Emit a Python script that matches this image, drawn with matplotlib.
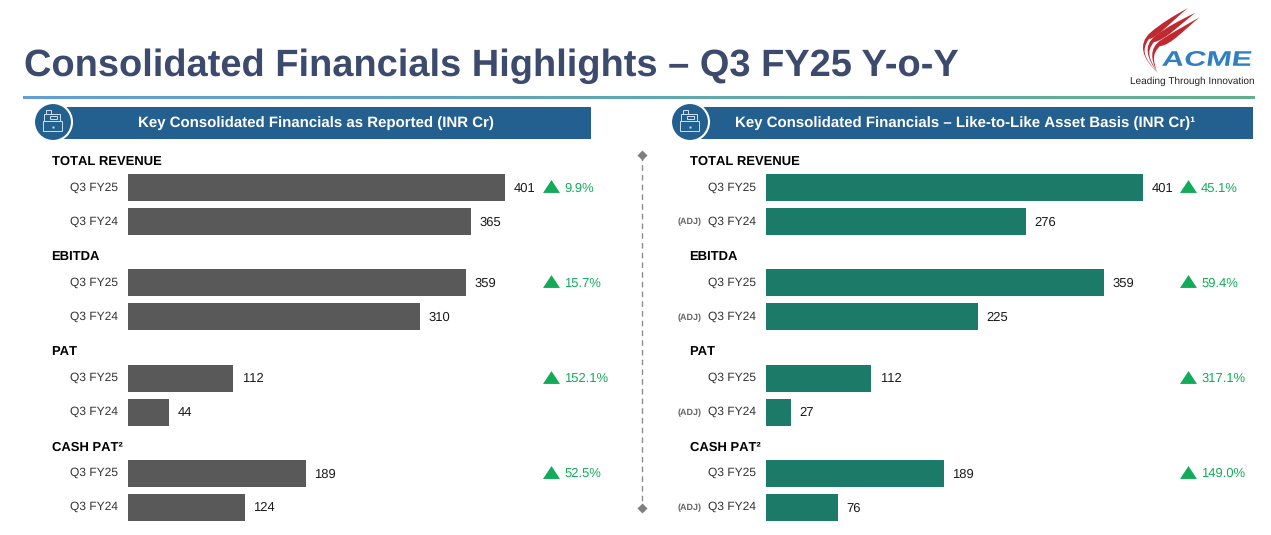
import numpy as np
import matplotlib
matplotlib.use('Agg')
import matplotlib.pyplot as plt
from matplotlib.colors import LinearSegmentedColormap
from matplotlib.font_manager import FontProperties
from matplotlib.patches import Circle, Rectangle, PathPatch
from matplotlib.path import Path
from matplotlib.textpath import TextPath
from matplotlib.transforms import Affine2D

plt.rcParams['font.family'] = ['Liberation Sans', 'DejaVu Sans']
plt.rcParams['text.hinting'] = 'no_hinting'
plt.rcParams['text.hinting_factor'] = 1

# datos
groups = ['TOTAL REVENUE', 'EBITDA', 'PAT', 'CASH PAT²']
periods = ['Q3 FY25', 'Q3 FY24']
reported_fy25 = [401, 359, 112, 189]
reported_fy24 = [365, 310, 44, 124]
reported_growth = ['9.9%', '15.7%', '152.1%', '52.5%']
adjusted_fy25 = [401, 359, 112, 189]
adjusted_fy24 = [276, 225, 27, 76]
adjusted_growth = ['45.1%', '59.4%', '317.1%', '149.0%']

W, H = 1271, 535
GREY = '#595959'
TEAL = '#1b7a68'
BLUE = '#24608f'
GREEN = '#12ab5a'
ICON = '#cfe0ee'
TRIANGLE = [(-1, -0.76), (1, -0.76), (0, 0.76)]

fig = plt.figure(figsize=(W / 100, H / 100), dpi=100)
bg = fig.add_axes([0, 0, 1, 1])

# titulo y linea degradada
bg.text(24, 66, 'Consolidated Financials Highlights – Q3 FY25 Y-o-Y', fontsize=27,
        fontweight='bold', color='#3c4a6e', va='center', ha='left')
grad = np.linspace(0, 1, 256).reshape(1, -1)
cmap = LinearSegmentedColormap.from_list('g', ['#5f9fd6', '#5fb08c'])
bg.imshow(grad, extent=[23, 1255, 99.5, 96.5], cmap=cmap, aspect='auto', zorder=1)
bg.set_xlim(0, W)
bg.set_ylim(H, 0)
bg.axis('off')

# logo
swooshes = [[(1157, 72), (1142, 58), (1138, 44), (1150, 33), (1160, 24), (1175, 15), (1188, 8)],
            [(1157, 72), (1147, 58), (1143, 46), (1155, 36), (1167, 27), (1182, 19), (1195, 13)],
            [(1157, 72), (1151, 60), (1149, 48), (1161, 40), (1173, 32), (1188, 24), (1200, 17)]]
for pts in swooshes:
    back = [(pts[6][0] - 14, pts[6][1] + 11), (pts[4][0] - 3, pts[4][1] + 14), (pts[3][0] - 1, pts[3][1] + 6)]
    back += [(pts[2][0] + 3, pts[2][1] + 6), (pts[1][0] + 2, pts[1][1]), pts[0]]
    bg.add_patch(PathPatch(Path(pts + back, [Path.MOVETO] + [Path.CURVE4] * 12), fc='#bf2a30', ec='none', zorder=2))
tp = TextPath((0, 0), 'ACME', size=16, prop=FontProperties(family='Liberation Sans', weight='bold'))
ext = tp.get_extents()
logo_tf = Affine2D().translate(-ext.x0, -ext.y0).scale(88 / ext.width, -15 / ext.height).skew_deg(-8, 0).translate(1162, 66)
bg.add_patch(PathPatch(tp, transform=logo_tf + bg.transData, fc='#2e80c2', ec='none', zorder=2))
bg.text(1192, 81.5, 'Leading Through Innovation', fontsize=7.2, color='#222222', ha='center', va='center')


def panel(x_band0, x_band1, cx, title, tx, vals25, vals24, growth, color, x0, adj, tri_x):
    bg.add_patch(Rectangle((x_band0, 107), x_band1 - x_band0, 32, fc=BLUE, ec='none', zorder=2))
    bg.text(tx, 123.5, title, color='white', fontsize=10.7, fontweight='bold', ha='center', va='center', zorder=5)
    bg.add_patch(Circle((cx, 122), 19, fc=BLUE, ec='white', lw=1.5, zorder=3))
    # icono caja registradora
    bg.add_patch(Rectangle((cx - 10, 121), 19, 10, fc='none', ec=ICON, lw=0.7, zorder=4))
    bg.add_patch(Rectangle((cx - 9, 114), 16, 7, fc='none', ec=ICON, lw=0.7, zorder=4))
    bg.add_patch(Rectangle((cx - 7, 110), 5, 4, fc='none', ec=ICON, lw=0.7, zorder=4))
    bg.add_patch(Rectangle((cx - 3, 116), 7, 3, fc='none', ec=ICON, lw=0.7, zorder=4))
    bg.plot([cx - 0.5], [127], marker='s', ms=1.5, color=ICON, mec='none', zorder=4)

    # barras en su propio eje, 0.941 px por unidad
    ax = fig.add_axes([x0 / W, 0, 500 / W, 1])
    ax.set_xlim(0, 500 / 0.941)
    ax.set_ylim(H, 0)
    ax.axis('off')
    ax.patch.set_alpha(0)
    for i, name in enumerate(groups):
        y25 = 187.8 + i * 95.1
        y24 = y25 + 34
        ax.barh([y25, y24], [vals25[i], vals24[i]], height=27, color=color)
        for y, v in [(y25, vals25[i]), (y24, vals24[i])]:
            ax.annotate(str(v), (v, y + 1), xytext=(6, 0), textcoords='offset points', fontsize=9,
                        color='#1a1a1a', va='center', ha='left')
        bg.text(x0 - 76.5, y25 - 26, name, fontsize=9.7, fontweight='bold', color='black', va='center', ha='left')
        bg.text(x0 - 10, y25, periods[0], fontsize=8.8, color='#333333', va='center', ha='right')
        bg.text(x0 - 10, y24, periods[1], fontsize=8.8, color='#333333', va='center', ha='right')
        if adj:
            bg.text(x0 - 64, y24 + 0.5, '(ADJ)', fontsize=6.6, fontweight='bold', color='#666666', va='center', ha='right')
        bg.plot([tri_x], [y25 - 1.5], marker=TRIANGLE, ms=12.2, color=GREEN, mec='none', zorder=4)
        bg.text(tri_x + 13, y25 + 0.5, growth[i], fontsize=9, color=GREEN, va='center', ha='left')


panel(60, 591, 53, 'Key Consolidated Financials as Reported (INR Cr)', 316,
      reported_fy25, reported_fy24, reported_growth, GREY, 128, False, 551)
panel(697, 1253, 690, 'Key Consolidated Financials – Like-to-Like Asset Basis (INR Cr)¹', 965,
      adjusted_fy25, adjusted_fy24, adjusted_growth, TEAL, 766, True, 1188)

# separador central
bg.plot([642, 642], [155, 508], color='#8c8c8c', lw=1, ls=(0, (4, 3)), zorder=1)
bg.plot([642, 642], [155, 508], ls='none', marker='D', ms=5, color='#7f7f7f', mec='none')

fig.savefig('out.png', dpi=100)
